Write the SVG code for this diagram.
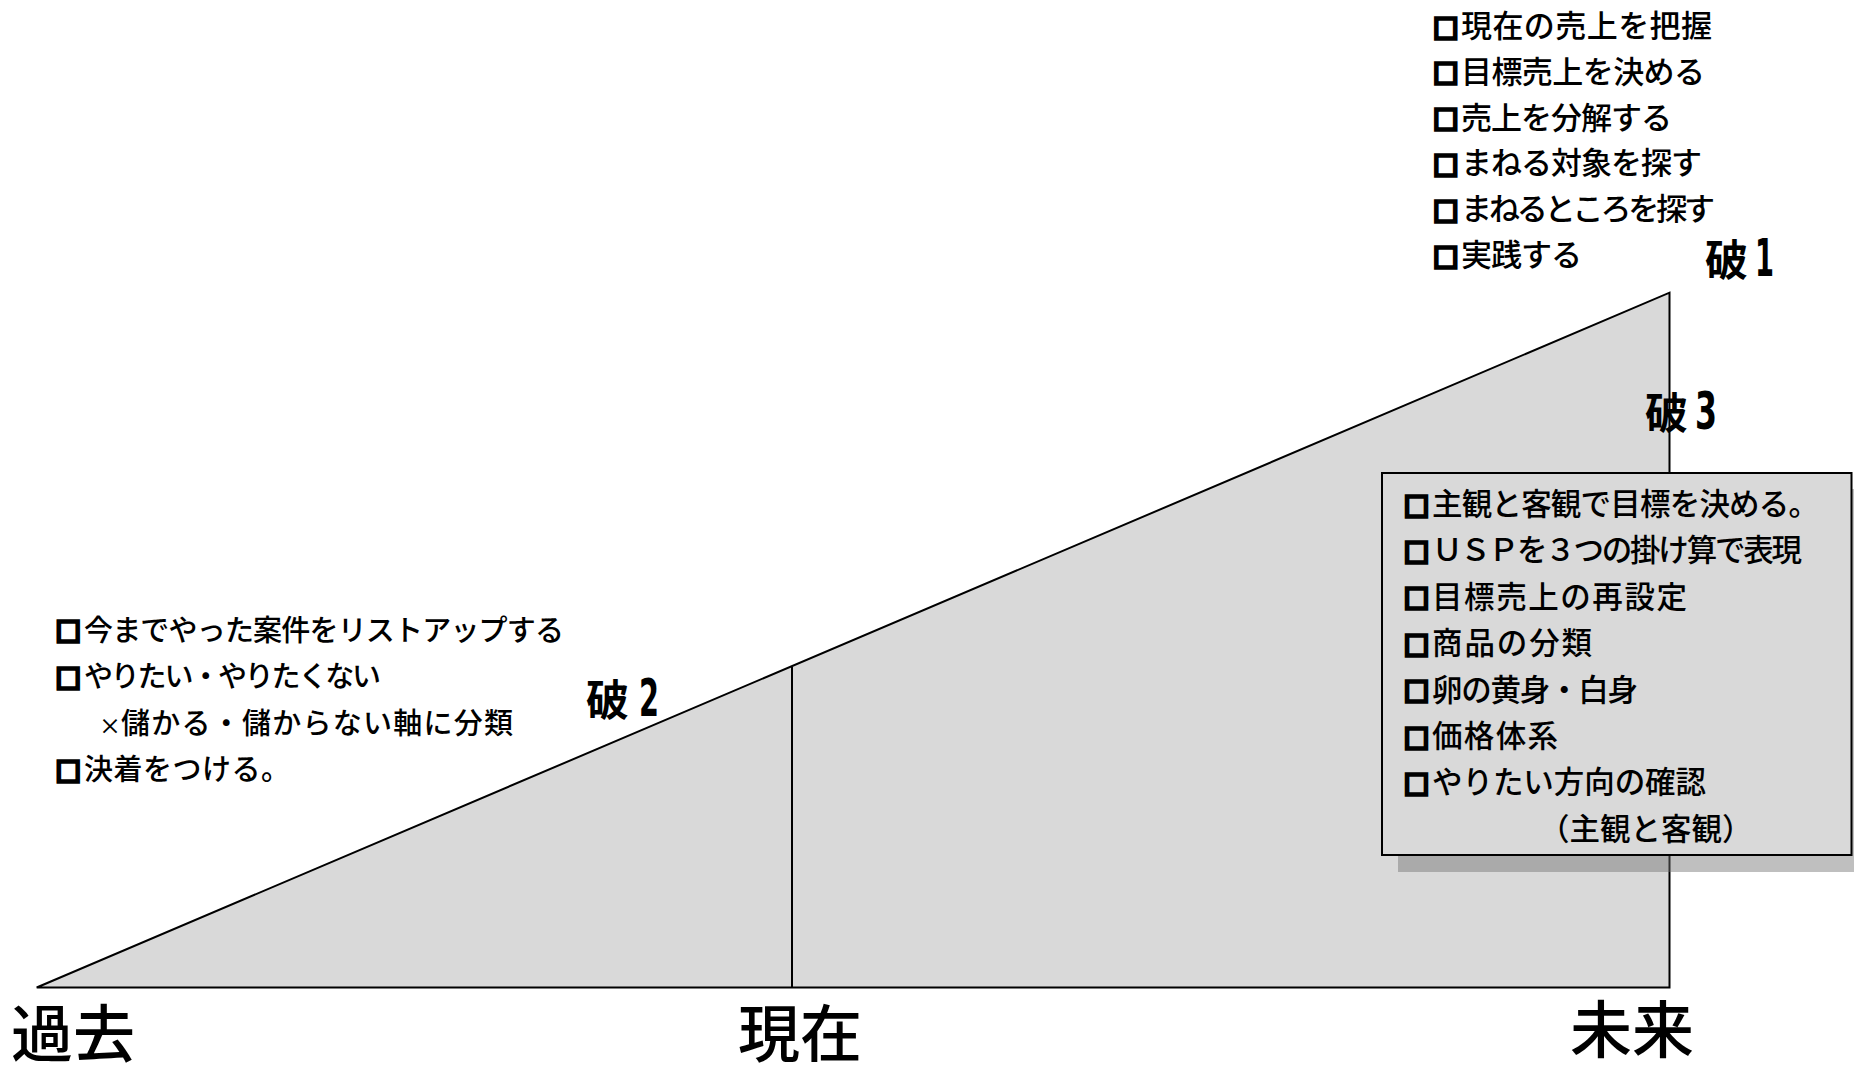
<svg xmlns="http://www.w3.org/2000/svg" width="1854" height="1072" viewBox="0 0 1854 1072">
<style>
text{font-family:"Noto Sans CJK JP","Noto Sans",sans-serif;fill:#000;font-weight:500}
.t31{font-size:31px}
.t30{font-size:30.5px}
.t29{font-size:29px}
.b{font-size:25px;font-weight:700;stroke:#000;stroke-width:3.5px;stroke-linejoin:miter}
.big{font-size:62px;font-weight:400}
.ha{font-size:43px;font-weight:700}
.num{font-family:"DejaVu Sans",sans-serif;font-weight:700;font-size:52px}
</style>
<rect width="1854" height="1072" fill="#fff"/>
<g id="chart">
<polygon points="36.7,987.5 1669.5,292.7 1669.5,987.5" fill="#D9D9D9" stroke="#000" stroke-width="2" stroke-linejoin="miter"/>
<line x1="792" y1="667" x2="792" y2="987.5" stroke="#000" stroke-width="2"/>
</g>
<g id="box3">
<rect x="1398" y="489" width="470" height="383" fill="#727272" fill-opacity="0.45"/>
<rect x="1382" y="473" width="469.5" height="382" fill="#D9D9D9" stroke="#000" stroke-width="2"/>
<g class="t30">
<text x="1404" y="515"><tspan class="b" dy="0.5">□</tspan><tspan x="1432" dy="-0.5" textLength="387" lengthAdjust="spacing">主観と客観で目標を決める。</tspan></text>
<text x="1404" y="561.4"><tspan class="b" dy="0.5">□</tspan><tspan x="1432" dy="-0.5" textLength="370" lengthAdjust="spacing">ＵＳＰを３つの掛け算で表現</tspan></text>
<text x="1404" y="607.8"><tspan class="b" dy="0.5">□</tspan><tspan x="1432" dy="-0.5" textLength="255" lengthAdjust="spacing">目標売上の再設定</tspan></text>
<text x="1404" y="654.2"><tspan class="b" dy="0.5">□</tspan><tspan x="1432" dy="-0.5" textLength="160" lengthAdjust="spacing">商品の分類</tspan></text>
<text x="1404" y="700.6"><tspan class="b" dy="0.5">□</tspan><tspan x="1432" dy="-0.5" textLength="206" lengthAdjust="spacing">卵の黄身・白身</tspan></text>
<text x="1404" y="747"><tspan class="b" dy="0.5">□</tspan><tspan x="1432" dy="-0.5" textLength="126" lengthAdjust="spacing">価格体系</tspan></text>
<text x="1404" y="793.4"><tspan class="b" dy="0.5">□</tspan><tspan x="1432" dy="-0.5" textLength="274" lengthAdjust="spacing">やりたい方向の確認</tspan></text>
<text x="1539" y="839.8">（主観と客観）</text>
</g>
</g>
<g id="list1" class="t31">
<text x="1433.3" y="37"><tspan class="b" dy="0.5">□</tspan><tspan x="1461" dy="-0.5" textLength="251" lengthAdjust="spacing">現在の売上を把握</tspan></text>
<text x="1433.3" y="82.8"><tspan class="b" dy="0.5">□</tspan><tspan x="1461" dy="-0.5" textLength="244" lengthAdjust="spacing">目標売上を決める</tspan></text>
<text x="1433.3" y="128.6"><tspan class="b" dy="0.5">□</tspan><tspan x="1461" dy="-0.5" textLength="211" lengthAdjust="spacing">売上を分解する</tspan></text>
<text x="1433.3" y="174.4"><tspan class="b" dy="0.5">□</tspan><tspan x="1461" dy="-0.5" textLength="241" lengthAdjust="spacing">まねる対象を探す</tspan></text>
<text x="1433.3" y="220.2"><tspan class="b" dy="0.5">□</tspan><tspan x="1461" dy="-0.5" textLength="254" lengthAdjust="spacing">まねるところを探す</tspan></text>
<text x="1433.3" y="266"><tspan class="b" dy="0.5">□</tspan><tspan x="1461" dy="-0.5" textLength="121" lengthAdjust="spacing">実践する</tspan></text>
</g>
<g id="list2" class="t29">
<text x="55.8" y="640.5"><tspan class="b" dy="0.5">□</tspan><tspan x="84" dy="-0.5" textLength="480" lengthAdjust="spacing">今までやった案件をリストアップする</tspan></text>
<text x="55.8" y="687"><tspan class="b" dy="0.5">□</tspan><tspan x="84" dy="-0.5" textLength="297" lengthAdjust="spacing">やりたい・やりたくない</tspan></text>
<text x="99" y="734"><tspan font-size="22">×</tspan><tspan x="121" textLength="392" lengthAdjust="spacing">儲かる・儲からない軸に分類</tspan></text>
<text x="55.8" y="780"><tspan class="b" dy="0.5">□</tspan><tspan x="84" dy="-0.5" textLength="206" lengthAdjust="spacing">決着をつける。</tspan></text>
</g>
<g id="label-ha1"><text class="ha" x="1705" y="276">破<tspan class="num" x="1755" textLength="19" lengthAdjust="spacingAndGlyphs">1</tspan></text></g>
<g id="label-ha3"><text class="ha" x="1645" y="429">破<tspan class="num" x="1695" textLength="22" lengthAdjust="spacingAndGlyphs">3</tspan></text></g>
<g id="label-ha2"><text class="ha" x="586" y="716">破<tspan class="num" x="639" textLength="20" lengthAdjust="spacingAndGlyphs">2</tspan></text></g>
<g id="axis-labels" class="big">
<text x="11" y="1057">過去</text>
<text x="738" y="1057">現在</text>
<text x="1570" y="1053">未来</text>
</g>
</svg>
